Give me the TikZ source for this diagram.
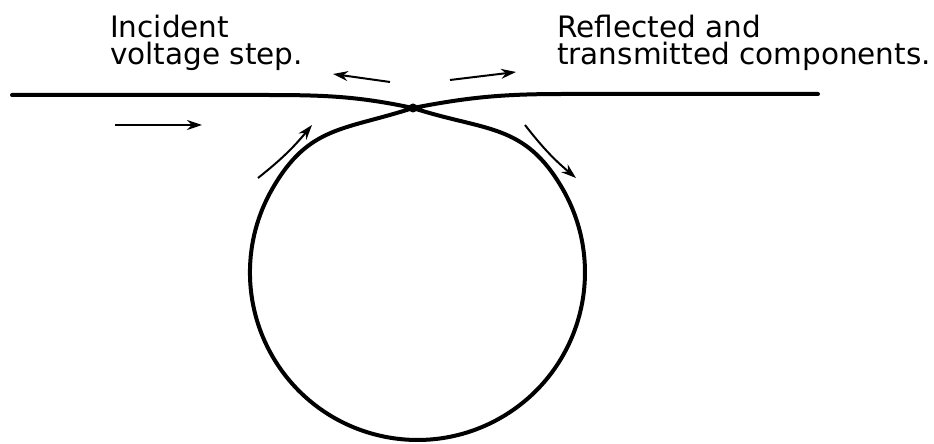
\documentclass[tikz,border=0pt]{standalone}
\usepackage{fontspec}
\setmainfont{DejaVu Sans}
\usetikzlibrary{arrows.meta}
\begin{document}
\begin{tikzpicture}[x=1pt,y=1pt,
  wire/.style={line width=4pt, line join=round, line cap=round},
  flow/.style={line width=2pt,-{Stealth[length=15pt,width=10pt]}},
  lbl/.style={anchor=base west, inner sep=0pt, font=\fontsize{29.5}{30}\selectfont}]
\useasboundingbox (0,0) rectangle (934,444);
\coordinate (J) at (413,336);
\coordinate (Lend) at (12,349);
\coordinate (Lstr) at (262,349);
\coordinate (Rstr) at (565,350);
\coordinate (Rend) at (818,350);
\coordinate (Pr) at (562.5,255.3);
% loop
\draw[wire] (Lend) -- (Lstr) to[out=0,in=168] (J) to[out=-18,in=120,looseness=1.15] (Pr)
  arc[start angle=30,end angle=-210,radius=167.5] to[out=60,in=198,looseness=1.15] (J)
  to[out=11,in=180] (Rstr) -- (Rend);
\fill (J) circle (4.5pt);
% labels
\node[lbl] (inc1) at (110,406) {Incident};
\node[lbl] (inc2) at (110,379) {voltage step.};
\node[lbl] (ref1) at (557,406) {Reflected and};
\node[lbl] (ref2) at (557,379) {transmitted components.};
% arrows
\coordinate (a1s) at (115,319); \coordinate (a1e) at (202,319);
\coordinate (a2s) at (390,362); \coordinate (a2e) at (333,370);
\coordinate (a3s) at (450,364); \coordinate (a3e) at (516,372);
\coordinate (a4s) at (258,266); \coordinate (a4e) at (312,319);
\coordinate (a5s) at (525,319); \coordinate (a5e) at (576,266);
\draw[flow] (a1s) -- (a1e);
\draw[flow] (a2s) -- (a2e);
\draw[flow] (a3s) -- (a3e);
\draw[flow] (a4s) to[bend right=6] (a4e);
\draw[flow] (a5s) to[bend right=6] (a5e);
\end{tikzpicture}
\end{document}
